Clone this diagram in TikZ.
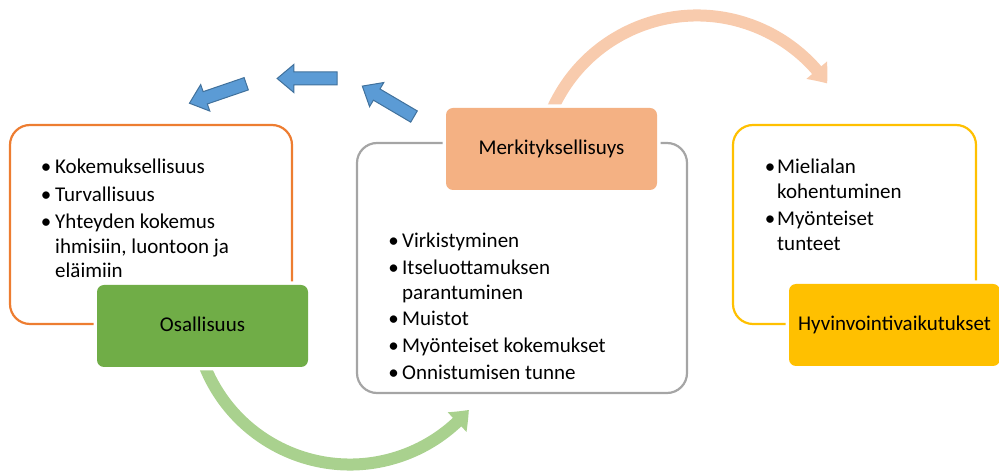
\documentclass[tikz,border=0pt]{standalone}
\usepackage{fontspec}
\setmainfont{Carlito}
\usetikzlibrary{arrows.meta,bending,calc,shapes.arrows}
\definecolor{cOrange}{HTML}{ED7D31}
\definecolor{cGrey}{HTML}{A5A5A5}
\definecolor{cYellow}{HTML}{FFC000}
\definecolor{cGreen}{HTML}{70AD47}
\definecolor{cPeach}{HTML}{F4B183}
\definecolor{cBlue}{HTML}{5B9BD5}
\definecolor{cBlueDark}{HTML}{41719C}
\definecolor{cPeachLight}{HTML}{F8CBAD}
\definecolor{cGreenLight}{HTML}{A9D18E}
\tikzset{
  frame/.style={rectangle, line width=2.2pt, rounded corners=20pt, inner sep=0pt},
  labelbox/.style={rectangle, rounded corners=7pt, inner sep=0pt,
    minimum width=211pt, minimum height=82pt,
    text height=14.7pt, text depth=4.3pt,
    font=\fontsize{21}{25}\selectfont,
    preaction={draw=white, line width=7pt}},
  item/.style={anchor=base west, inner sep=0pt, font=\fontsize{21}{25}\selectfont},
  bul/.style={anchor=base, inner sep=0pt, font=\fontsize{21}{25}\selectfont},
  bluearrow/.style={single arrow, fill=cBlue, draw=cBlueDark, line width=1pt,
    inner xsep=0pt, inner ysep=6pt, single arrow head extend=7.5pt,
    single arrow tip angle=80, minimum height=60pt},
  bigarc/.style={line width=12pt, -{Triangle[width=26pt,length=17pt,bend]}},
}
\begin{document}
\begin{tikzpicture}[x=1pt,y=1pt]
\useasboundingbox (0,0) rectangle (999,471);

% curved arrows (drawn first, boxes cover their tails)
\coordinate (pc) at (697,297);
\coordinate (gc) at (350,163);
\draw[bigarc, cPeachLight] ($(pc)+(157:158.5)$) arc[start angle=157, end angle=34.8, radius=158.5];
\draw[bigarc, cGreenLight] ($(gc)+(201:156.5)$) arc[start angle=201, end angle=319.4, radius=156.5];

% outline frames
\node[frame, draw=cOrange, minimum width=282pt, minimum height=199pt] (fL) at (151,246.5) {};
\node[frame, draw=cGrey, minimum width=330pt, minimum height=250pt] (fM) at (522,203) {};
\node[frame, draw=cYellow, minimum width=243pt, minimum height=199pt] (fR) at (854.5,246.5) {};

% label boxes
\node[labelbox, fill=cGreen] (osal) at (202.5,145) {Osallisuus};
\node[labelbox, fill=cPeach] (merk) at (551.5,322) {Merkityksellisuys};
\node[labelbox, fill=cYellow] (hyv) at (894.5,146) {Hyvinvointivaikutukset};

% left list
\node[bul] (lb1) at (46,297) {•};
\node[item] (l1) at (55,297) {Kokemuksellisuus};
\node[bul] (lb2) at (46,269) {•};
\node[item] (l2) at (55,269) {Turvallisuus};
\node[bul] (lb3) at (46,242) {•};
\node[item] (l3) at (55,242) {Yhteyden kokemus};
\node[item] (l3b) at (55,217.5) {ihmisiin, luontoon ja};
\node[item] (l3c) at (55,193) {eläimiin};

% middle list
\node[bul] (mb1) at (393.5,223.5) {•};
\node[item] (m1) at (402,223.5) {Virkistyminen};
\node[bul] (mb2) at (393.5,196) {•};
\node[item] (m2) at (402,196) {Itseluottamuksen};
\node[item] (m2b) at (402,171.5) {parantuminen};
\node[bul] (mb3) at (393.5,145) {•};
\node[item] (m3) at (402,145) {Muistot};
\node[bul] (mb4) at (393.5,118) {•};
\node[item] (m4) at (402,118) {Myönteiset kokemukset};
\node[bul] (mb5) at (393.5,91) {•};
\node[item] (m5) at (402,91) {Onnistumisen tunne};

% right list
\node[bul] (rb1) at (770,297) {•};
\node[item] (r1) at (777,297) {Mielialan};
\node[item] (r1b) at (777,272.5) {kohentuminen};
\node[bul] (rb2) at (770,245) {•};
\node[item] (r2) at (777,245) {Myönteiset};
\node[item] (r2b) at (777,220.5) {tunteet};

% blue arrows
\node[bluearrow, rotate=198.9] (a1) at (221.5,378.75) {};
\node[bluearrow, rotate=180] (a2) at (311,392.5) {};
\node[bluearrow, rotate=149.5] (a3) at (391.5,367.7) {};
\end{tikzpicture}
\end{document}
